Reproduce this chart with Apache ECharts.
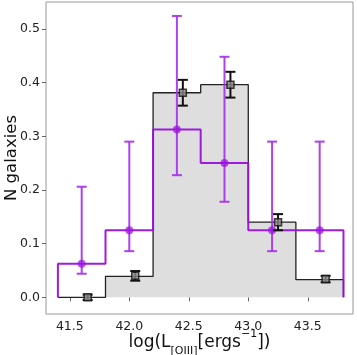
<!DOCTYPE html>
<html>
<head>
<meta charset="utf-8">
<script src="https://cdn.jsdelivr.net/npm/echarts@6/dist/echarts.min.js"></script>
<style>
  html, body { margin: 0; padding: 0; background: #fff; }
  #main { width: 357px; height: 355px; }
</style>
</head>
<body>
<div id="main"></div>
<script>
// bin edges of both histograms
var binEdges = [41.4, 41.8, 42.2, 42.6, 43.0, 43.4, 43.8];
var blackHist = [0, 0.039, 0.381, 0.396, 0.14, 0.033];
var purpleHist = [0.0625, 0.125, 0.3125, 0.25, 0.125, 0.125];

// points with error bars
var blackX = [41.65, 42.05, 42.45, 42.85, 43.25, 43.65];
var blackY = [0, 0.04, 0.381, 0.396, 0.14, 0.034];
var blackErr = [0.005, 0.009, 0.024, 0.024, 0.015, 0.006];

var purpleX = [41.6, 42.0, 42.4, 42.8, 43.2, 43.6];
var purpleY = [0.0625, 0.125, 0.3125, 0.25, 0.125, 0.125];
var purpleLo = [0.044, 0.086, 0.2275, 0.178, 0.086, 0.086];
var purpleHi = [0.206, 0.29, 0.524, 0.448, 0.29, 0.29];

var xTicks = [41.5, 42.0, 42.5, 43.0, 43.5];
var yTicks = [0, 0.1, 0.2, 0.3, 0.4, 0.5];

var purple = '#9a10dc';

function stepData(vals, startFromZero) {
  var res = [];
  if (startFromZero) res.push([binEdges[0], 0]);
  for (var i = 0; i < vals.length; i++) {
    res.push([binEdges[i], vals[i]]);
  }
  res.push([binEdges[vals.length], vals[vals.length - 1]]);
  res.push([binEdges[vals.length], 0]);
  return res;
}

function errRender(color, width, capW) {
  return function (params, api) {
    var x = api.value(0);
    var lo = api.coord([x, api.value(1)]);
    var hi = api.coord([x, api.value(2)]);
    var st = { stroke: color, lineWidth: width };
    return {
      type: 'group',
      children: [
        { type: 'line', shape: { x1: lo[0], y1: lo[1], x2: hi[0], y2: hi[1] }, style: st },
        { type: 'line', shape: { x1: lo[0] - capW, y1: lo[1], x2: lo[0] + capW, y2: lo[1] }, style: st },
        { type: 'line', shape: { x1: hi[0] - capW, y1: hi[1], x2: hi[0] + capW, y2: hi[1] }, style: st }
      ]
    };
  };
}

var blackErrData = blackX.map(function (x, i) {
  return [x, blackY[i] - blackErr[i], blackY[i] + blackErr[i]];
});
var purpleErrData = purpleX.map(function (x, i) {
  return [x, purpleLo[i], purpleHi[i]];
});

var chart = echarts.init(document.getElementById('main'));
var option = {
  backgroundColor: '#fff',
  animation: false,
  grid: {
    left: 46, right: 4, top: 2, bottom: 41,
    outerBoundsMode: 'none',
    containLabel: false,
    show: true, borderColor: '#999', borderWidth: 1
  },
  xAxis: {
    type: 'value',
    min: 41.3, max: 43.88,
    splitLine: { show: false },
    axisLine: { show: false },
    axisTick: { show: true, customValues: xTicks, length: 4, lineStyle: { color: '#666' } },
    axisLabel: {
      customValues: xTicks, fontSize: 12.5, color: '#222', margin: 6,
      fontFamily: 'DejaVu Sans',
      formatter: function (v) { return v.toFixed(1); }
    },
    name: 'log(L{sub|[OIII]}[ergs{sup|\u22121}])',
    nameLocation: 'middle',
    nameGap: 15,
    nameMoveOverlap: false,
    nameTextStyle: {
      fontSize: 17, color: '#111', fontFamily: 'DejaVu Sans', lineHeight: 28,
      rich: {
        sub: { fontSize: 11, fontFamily: 'DejaVu Sans', color: '#111', verticalAlign: 'bottom', lineHeight: 16 },
        sup: { fontSize: 11, fontFamily: 'DejaVu Sans', color: '#111', verticalAlign: 'top', lineHeight: 16 }
      }
    }
  },
  yAxis: {
    type: 'value',
    min: -0.031, max: 0.55,
    splitLine: { show: false },
    axisLine: { show: false },
    axisTick: { show: true, customValues: yTicks, length: 4, lineStyle: { color: '#666' } },
    axisLabel: {
      customValues: yTicks, fontSize: 12.5, color: '#222', margin: 6,
      fontFamily: 'DejaVu Sans',
      formatter: function (v) { return v.toFixed(1); }
    },
    name: 'N galaxies',
    nameLocation: 'middle',
    nameGap: 26,
    nameMoveOverlap: false,
    nameTextStyle: { fontSize: 16.5, color: '#111', fontFamily: 'DejaVu Sans' }
  },
  series: [
    {
      type: 'line',
      step: 'end',
      data: stepData(blackHist, false),
      symbol: 'none',
      lineStyle: { color: '#222', width: 1.3 },
      areaStyle: { color: '#dedede', opacity: 1 },
      z: 2
    },
    {
      type: 'line',
      step: 'end',
      data: stepData(purpleHist, true),
      symbol: 'none',
      lineStyle: { color: purple, width: 2, opacity: 0.95 },
      z: 3
    },
    {
      type: 'custom',
      data: purpleErrData,
      renderItem: errRender('rgba(165,45,235,0.9)', 2, 5),
      z: 4
    },
    {
      type: 'scatter',
      data: purpleX.map(function (x, i) { return [x, purpleY[i]]; }),
      symbol: 'circle',
      symbolSize: 8,
      itemStyle: { color: purple, opacity: 0.7 },
      z: 5
    },
    {
      type: 'custom',
      data: blackErrData,
      renderItem: errRender('#111', 2, 5),
      z: 6
    },
    {
      type: 'scatter',
      data: blackX.map(function (x, i) { return [x, blackY[i]]; }),
      symbol: 'rect',
      symbolSize: 7,
      itemStyle: { color: '#8a8a8a', borderColor: '#111', borderWidth: 1.5 },
      z: 7
    }
  ]
};
chart.setOption(option);
</script>
</body>
</html>
